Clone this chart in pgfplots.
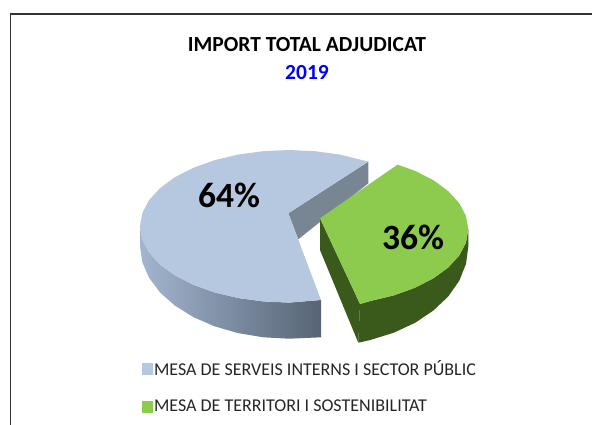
\documentclass[border=0pt]{standalone}
\usepackage{fontspec}
\setmainfont{Carlito}
\usepackage{pgfplots}
\pgfplotsset{compat=1.18}
\definecolor{bluetop}{HTML}{B5C8E0}
\definecolor{greentop}{HTML}{8CCB4E}
\definecolor{bluewallL}{HTML}{A3B5CF}
\definecolor{bluewallR}{HTML}{566474}
\definecolor{blueinner}{HTML}{788694}
\definecolor{greenwall}{HTML}{3A5A1C}
\begin{document}
\begin{tikzpicture}
\begin{axis}[
  scale only axis, width=592pt, height=425pt,
  xmin=0, xmax=592, ymin=0, ymax=425, y dir=reverse,
  hide axis, clip=true,
  legend style={at={(axis cs:142,359.5)}, anchor=north west, draw=none, fill=none,
    font=\fontsize{18}{21}\selectfont, row sep=21pt, inner sep=0pt, outer sep=0pt,
    nodes={inner sep=1pt, text=black!85}},
  legend cell align=left,
  legend image code/.code={\fill[#1] (0pt,-6pt) rectangle (11pt,6pt);},
  legend columns=1,
]
% page
\addplot[forget plot, draw=none, fill=white] coordinates {(0,0)(592,0)(592,425)(0,425)};
% frame
\addplot[forget plot, draw=black!80, line width=1.2pt] coordinates {(592,14) (10.5,14) (10.5,425)};
% blue outer wall
\addplot[forget plot, draw=none, left color=bluewallL, right color=bluewallR] coordinates {
(140,226.3)(142.3,239.6)(149,252.4)(160,264.5)(174.9,275.3)(193.2,284.7)(214.5,292.4)(238,298)(263.1,301.4)(289,302.6)(321,300)
(321,337.3)(289,338.7)(263.1,337.3)(238,333.1)(214.5,326.3)(193.2,317)(174.9,305.6)(160,292.4)(149,277.7)(142.3,262.1)(140,246)};
% blue inner wall
\addplot[forget plot, draw=none, fill=blueinner] coordinates {(368.3,161.7)(288.3,213.3)(298.3,239.3)(368.3,183.3)};
% blue top
\addplot[draw=none, fill=bluetop] coordinates {
(368,161.6)(340,154.6)(314.9,151.2)(289,150)(263.1,151.2)(238,154.6)(214.5,160.2)(193.2,167.9)(174.9,177.2)(160,188.2)(149,200.2)(142.3,213)
(140,226.3)(142.3,239.6)(149,252.4)(160,264.5)(174.9,275.3)(193.2,284.7)(214.5,292.4)(238,298)(263.1,301.4)(289,302.6)(321,300)(288.3,213.3)};
% green inner wall
\addplot[forget plot, draw=none, fill=greenwall] coordinates {(320,218.3)(320,250)(358.3,342.7)(360,304)};
% green outer wall
\addplot[forget plot, draw=none, fill=greenwall] coordinates {
(468.3,229.3)(466,242.6)(459.3,255.4)(448.3,267.5)(433.4,278.3)(415.1,287.7)(393.8,295.4)(370.3,301)(360,304)
(358.3,342.7)(370.3,340)(393.8,332.7)(415.1,322.8)(433.4,310.5)(448.3,296.4)(459.3,280.7)(466,263.9)(468.3,246.7)};
% green top
\addplot[draw=none, fill=greentop] coordinates {
(397.6,164.6)(415.1,170.9)(433.4,180.2)(448.3,191.2)(459.3,203.2)(466,216)(468.3,229.3)(466,242.6)(459.3,255.4)(448.3,267.5)(433.4,278.3)(415.1,287.7)(393.8,295.4)(370.3,301)(360,304)(320,218.3)};
\addlegendentry{MESA DE SERVEIS INTERNS I SECTOR PÚBLIC}
\addlegendentry{MESA DE TERRITORI I SOSTENIBILITAT}
\node[font=\bfseries\fontsize{21.5}{24}\selectfont, text=black] at (axis cs:307,45) {IMPORT TOTAL ADJUDICAT};
\node[font=\bfseries\fontsize{21.5}{24}\selectfont, text=blue] at (axis cs:307,73) {2019};
\node[font=\bfseries\fontsize{35.5}{40}\selectfont] at (axis cs:229,195) {64\%};
\node[font=\bfseries\fontsize{35.5}{40}\selectfont] at (axis cs:413,237) {36\%};
\end{axis}
\end{tikzpicture}
\end{document}
